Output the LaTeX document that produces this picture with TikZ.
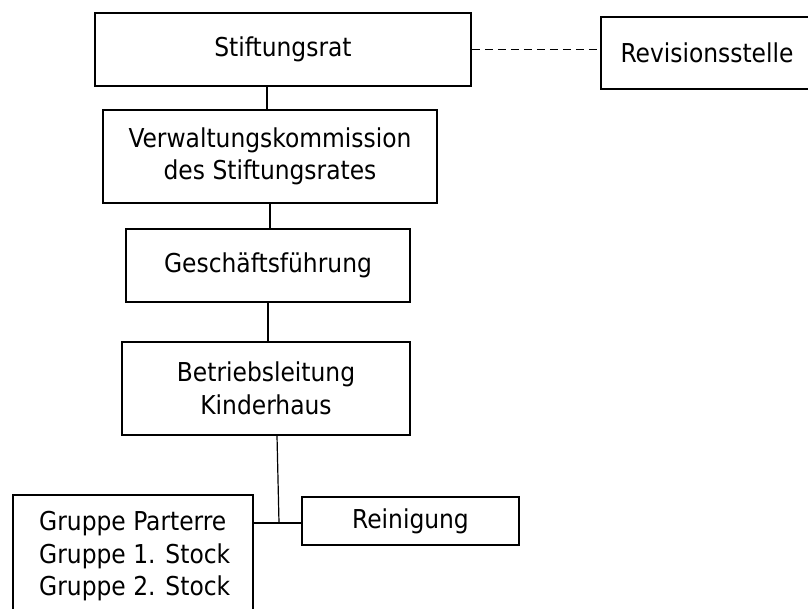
\documentclass[tikz,border=0pt]{standalone}
\usepackage{fontspec}
\setmainfont{DejaVu Sans Condensed}
\begin{document}
\begin{tikzpicture}[x=1pt,y=-1pt,
  box/.style={draw, line width=1.6pt, rectangle, inner sep=0pt, align=center,
    font=\fontsize{26}{32.5}\selectfont},
  conn/.style={line width=1.2pt},
  txt/.style={inner sep=0pt, align=left, font=\fontsize{26}{32.5}\selectfont}]
\useasboundingbox (0,0) rectangle (808,608);
\clip (0,0) rectangle (808,608);
\node[box, minimum width=376pt, minimum height=73pt] (sr) at (283,49.5) {Stiftungsrat};
\node[box, minimum width=212pt, minimum height=72pt] (rev) at (707,53) {Revisionsstelle};
\node[box, minimum width=334pt, minimum height=93pt] (vk) at (270,156.5) {Verwaltungskommission\\des Stiftungsrates};
\node[box, minimum width=284pt, minimum height=73pt] (gf) at (268,265.5) {Geschäftsführung};
\node[box, minimum width=288pt, minimum height=93pt] (bl) at (266,388.5) {Betriebsleitung\\Kinderhaus};
\node[box, minimum width=240pt, minimum height=170pt, anchor=north west] (gr) at (12,494) {};
\node[txt, anchor=north west] (grt) at (39,511) {Gruppe Parterre\\Gruppe 1. Stock\\Gruppe 2. Stock};
\node[box, minimum width=217pt, minimum height=48pt] (rn) at (410.5,521) {Reinigung};
\coordinate (j) at (279,523);
\draw[conn] ([xshift=-16pt]sr.south) -- ([xshift=-16pt]sr.south |- vk.north);
\draw[conn] (vk.south) -- (vk.south |- gf.north);
\draw[conn] (gf.south) -- (gf.south |- bl.north);
\draw[conn] ([xshift=11pt]bl.south) -- (j);
\draw[conn] (gr.east |- j) -- (rn.west |- j);
\draw[line width=1.6pt, dash pattern=on 8pt off 5pt] (sr.east) -- (sr.east -| rev.west);
\end{tikzpicture}
\end{document}
